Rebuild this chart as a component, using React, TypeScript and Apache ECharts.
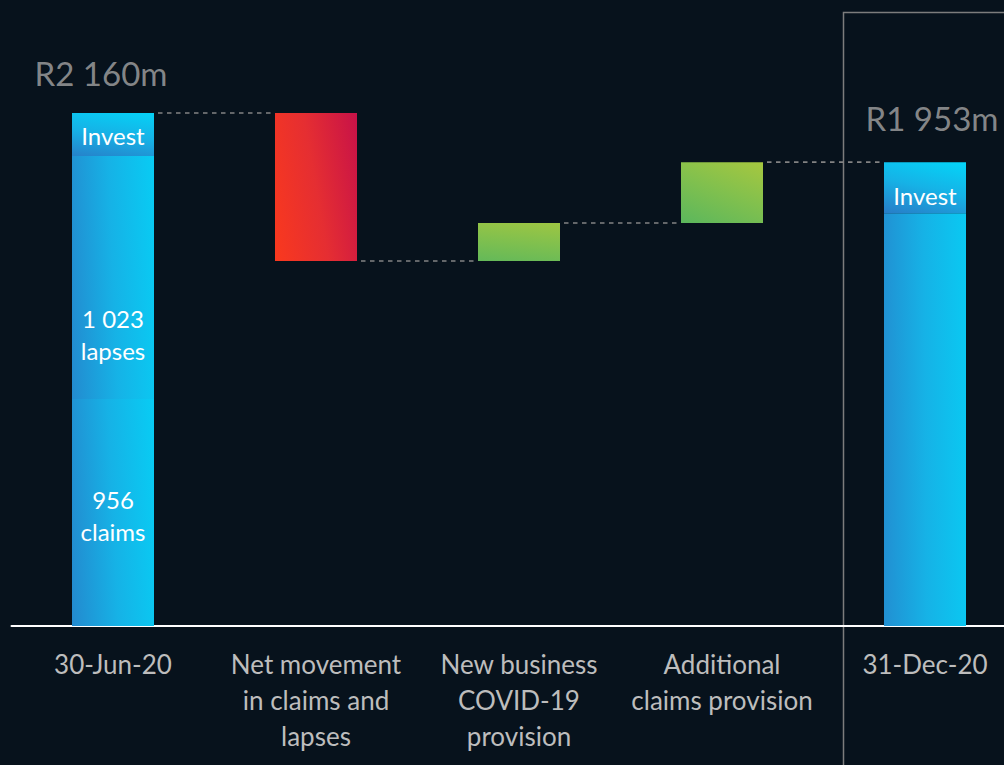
import React, { useEffect, useRef } from "react";
import * as echarts from "echarts";

// Embedded value movement, R million
const categories = [
  "30-Jun-20",
  "Net movement\nin claims and\nlapses",
  "New business\nCOVID-19\nprovision",
  "Additional\nclaims provision",
  "31-Dec-20",
];
const openingTotal = 2160;
const openingClaims = 956;
const openingLapses = 1023;
const movements = [-623, 160, 256]; // categories 1..3
const closingTotal = 1953;
const closingInvest = 215;

const BG = "#07121c";
const FONT = "Lato, 'Open Sans', sans-serif";
const GRID_TOP = 113;
const AXIS_Y = 626;
const BAR_W = 82;
const PX_PER_UNIT = (AXIS_Y - GRID_TOP) / openingTotal;

const BLUE: string[] = ["#2b72c1", "#16b2e6", "#00dcfc"];
const RED: string[] = ["#ff3c18", "#e52e32", "#bf0a4e"];
const GREEN: string[] = ["#58b65e", "#80c04e", "#aac83e"];

const fmt = (n: number) => String(n).replace(/\B(?=(\d{3})+(?!\d))/g, " ");

// Diagonal gradient (bottom-left -> top-right) whose colour bands follow the
// shape's own anti-diagonal, for a segment of the given value.
function diag(value: number, stops: string[]) {
  const w = BAR_W;
  const h = Math.max(1, Math.abs(value) * PX_PER_UNIT);
  const s = w * w + h * h;
  const a = (h * h) / s;
  const b = (w * w) / s;
  return new echarts.graphic.LinearGradient(
    0.5 - a,
    0.5 + b,
    0.5 + a,
    0.5 - b,
    stops.map((color, i) => ({ offset: i / (stops.length - 1), color }))
  );
}

export default function App() {
  const ref = useRef<HTMLDivElement>(null);

  useEffect(() => {
    document.body.style.margin = "0";
    document.body.style.background = BG;
    const chart = echarts.init(ref.current!, undefined, { renderer: "svg" });

    const n = categories.length;
    const openingInvest = openingTotal - openingClaims - openingLapses;

    // running totals after each category
    const levels: number[] = [openingTotal];
    movements.forEach((m) => levels.push(levels[levels.length - 1] + m));

    const base: (number | string)[] = Array(n).fill("-");
    const moveData: any[] = Array(n).fill("-");
    movements.forEach((m, i) => {
      const idx = i + 1;
      const before = levels[i];
      base[idx] = m < 0 ? before + m : before;
      moveData[idx] = {
        value: Math.abs(m),
        itemStyle: { color: diag(m, m < 0 ? RED : GREEN) },
      };
    });

    const empty = () => Array(n).fill("-") as any[];
    const lower = empty();
    lower[0] = {
      value: openingClaims,
      itemStyle: { color: diag(openingClaims, BLUE) },
      label: { show: true, formatter: `${fmt(openingClaims)}\nclaims`, offset: [0, 3] },
    };
    lower[n - 1] = {
      value: closingTotal - closingInvest,
      itemStyle: { color: diag(closingTotal - closingInvest, BLUE) },
    };
    const middle = empty();
    middle[0] = {
      value: openingLapses,
      itemStyle: { color: diag(openingLapses, BLUE) },
      label: { show: true, formatter: `${fmt(openingLapses)}\nlapses`, offset: [0, 57] },
    };
    const invest = empty();
    invest[0] = {
      value: openingInvest,
      itemStyle: { color: diag(openingInvest, BLUE) },
      label: { show: true, formatter: "Invest", offset: [0, 1] },
    };
    invest[n - 1] = {
      value: closingInvest,
      itemStyle: { color: diag(closingInvest, BLUE) },
      label: { show: true, formatter: "Invest", offset: [0, 8] },
    };

    const innerLabel = {
      show: false,
      position: "inside",
      color: "#ffffff",
      fontFamily: FONT,
      fontSize: 24,
      lineHeight: 32,
    };

    const connectors = levels.map((lv, i) => [i, lv]);

    chart.setOption({
      animation: false,
      backgroundColor: BG,
      grid: {
        left: 11.5,
        top: GRID_TOP,
        width: 1015,
        bottom: 765 - AXIS_Y,
        outerBoundsMode: "none",
        containLabel: false,
      },
      xAxis: {
        type: "category",
        data: categories,
        axisTick: { show: false },
        axisLine: { lineStyle: { color: "#ffffff", width: 2 } },
        axisLabel: {
          color: "#bdbdbd",
          fontFamily: FONT,
          fontSize: 26,
          lineHeight: 36,
          margin: 20,
          interval: 0,
        },
      },
      yAxis: {
        type: "value",
        min: 0,
        max: openingTotal,
        show: false,
        splitLine: { show: false },
      },
      graphic: [
        {
          type: "rect",
          silent: true,
          shape: { x: 843.5, y: 12.5, width: 400, height: 900 },
          style: { fill: "none", stroke: "#7c7c7c", lineWidth: 1.5 },
          z: 0,
        },
      ],
      series: [
        {
          name: "base",
          type: "bar",
          stack: "wf",
          barWidth: BAR_W,
          data: base,
          itemStyle: { color: "transparent" },
          silent: true,
        },
        { name: "lower", type: "bar", stack: "wf", barWidth: BAR_W, data: lower, label: innerLabel },
        { name: "middle", type: "bar", stack: "wf", barWidth: BAR_W, data: middle, label: innerLabel },
        { name: "invest", type: "bar", stack: "wf", barWidth: BAR_W, data: invest, label: innerLabel },
        { name: "movement", type: "bar", stack: "wf", barWidth: BAR_W, data: moveData },
        {
          name: "totals",
          type: "scatter",
          symbolSize: 0,
          data: [
            { value: [0, openingTotal], label: { offset: [-12, -40] } },
            { value: [n - 1, closingTotal], label: { offset: [7, -44] } },
          ],
          label: {
            show: true,
            position: "inside",
            formatter: (p: any) => `R${fmt(p.value[1])}m`,
            color: "#a6a6a6",
            fontFamily: FONT,
            fontSize: 33,
          },
          z: 5,
        },
        {
          name: "connectors",
          type: "custom",
          silent: true,
          data: connectors,
          renderItem: (_params: any, api: any) => {
            const p = api.coord([api.value(0), api.value(1)]);
            const band = api.size([1, 0])[0];
            const half = BAR_W / 2;
            return {
              type: "line",
              shape: {
                x1: p[0] + half + 4,
                y1: p[1],
                x2: p[0] + band - half - 4,
                y2: p[1],
              },
              style: { stroke: "#828282", lineWidth: 1.6, lineDash: [4.5, 4.5] },
            };
          },
        },
      ],
    });

    return () => chart.dispose();
  }, []);

  return (
    <div
      ref={ref}
      style={{ position: "fixed", left: 0, top: 0, width: 1004, height: 765, background: BG }}
    />
  );
}
